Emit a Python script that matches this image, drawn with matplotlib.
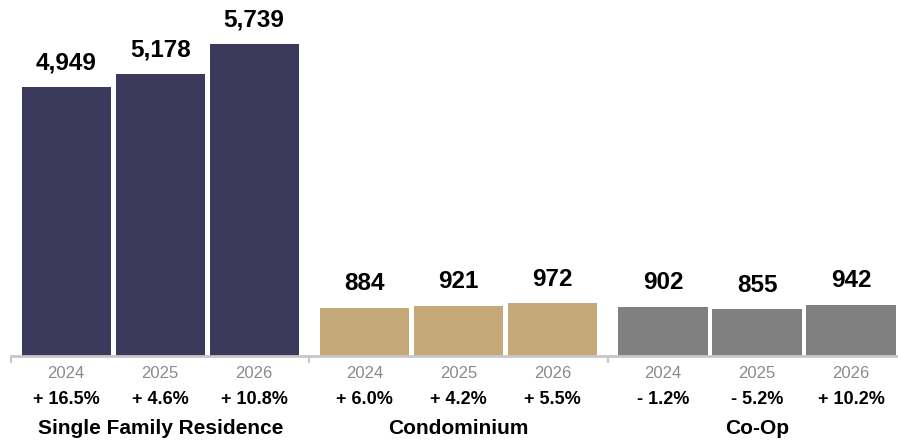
import matplotlib
matplotlib.use("Agg")
import matplotlib.pyplot as plt

plt.rcParams['font.family'] = ['Liberation Sans', 'DejaVu Sans']

# data
groups = ['Single Family Residence', 'Condominium', 'Co-Op']
years = ['2024', '2025', '2026']
sfr_values = [4949, 5178, 5739]
condo_values = [884, 921, 972]
coop_values = [902, 855, 942]
sfr_change = [16.5, 4.6, 10.8]
condo_change = [6.0, 4.2, 5.5]
coop_change = [-1.2, -5.2, 10.2]

values = [sfr_values, condo_values, coop_values]
changes = [sfr_change, condo_change, coop_change]
colors = ['#3b395c', '#c4a878', '#808080']

group_step = 3.175
bar_w = 0.95

fig = plt.figure(figsize=(8.98, 4.43), dpi=100)
ax = fig.add_axes([11 / 898, 87 / 443, 887 / 898, 356 / 443])

xt = ax.get_xaxis_transform()

for g, name in enumerate(groups):
    xs = [g * group_step + j for j in range(len(years))]
    bars = ax.bar(xs, values[g], width=bar_w, color=colors[g])
    for x, v, yr, ch in zip(xs, values[g], years, changes[g]):
        ax.annotate(f'{v:,}', (x, v), xytext=(0, 9), textcoords='offset points',
                    ha='center', va='bottom', fontsize=17.5, fontweight='bold')
        ax.annotate(yr, (x, 0), xycoords=xt, xytext=(0, -12.5), textcoords='offset points',
                    ha='center', va='center', fontsize=12, color='#8a8a8a')
        sign = '+' if ch >= 0 else '-'
        ax.annotate(f'{sign} {abs(ch):.1f}%', (x, 0), xycoords=xt, xytext=(0, -31),
                    textcoords='offset points', ha='center', va='center',
                    fontsize=13, fontweight='bold')
    ax.annotate(name, (xs[1], 0), xycoords=xt, xytext=(0, -52.5), textcoords='offset points',
                ha='center', va='center', fontsize=15, fontweight='bold')

# group separators on the baseline
bounds = [-0.5875, 2.5875, 5.7625]
ax.set_xticks(bounds)
ax.set_xticklabels([])
ax.tick_params(axis='x', direction='out', length=5, width=1.5, color='#c8c8c8')
ax.set_yticks([])
for s in ['top', 'right', 'left']:
    ax.spines[s].set_visible(False)
ax.spines['bottom'].set_color('#c8c8c8')
ax.spines['bottom'].set_linewidth(2)

ax.set_xlim(-0.5875, 8.85)
ax.set_ylim(0, 6544)

fig.savefig('out.png', dpi=100)
